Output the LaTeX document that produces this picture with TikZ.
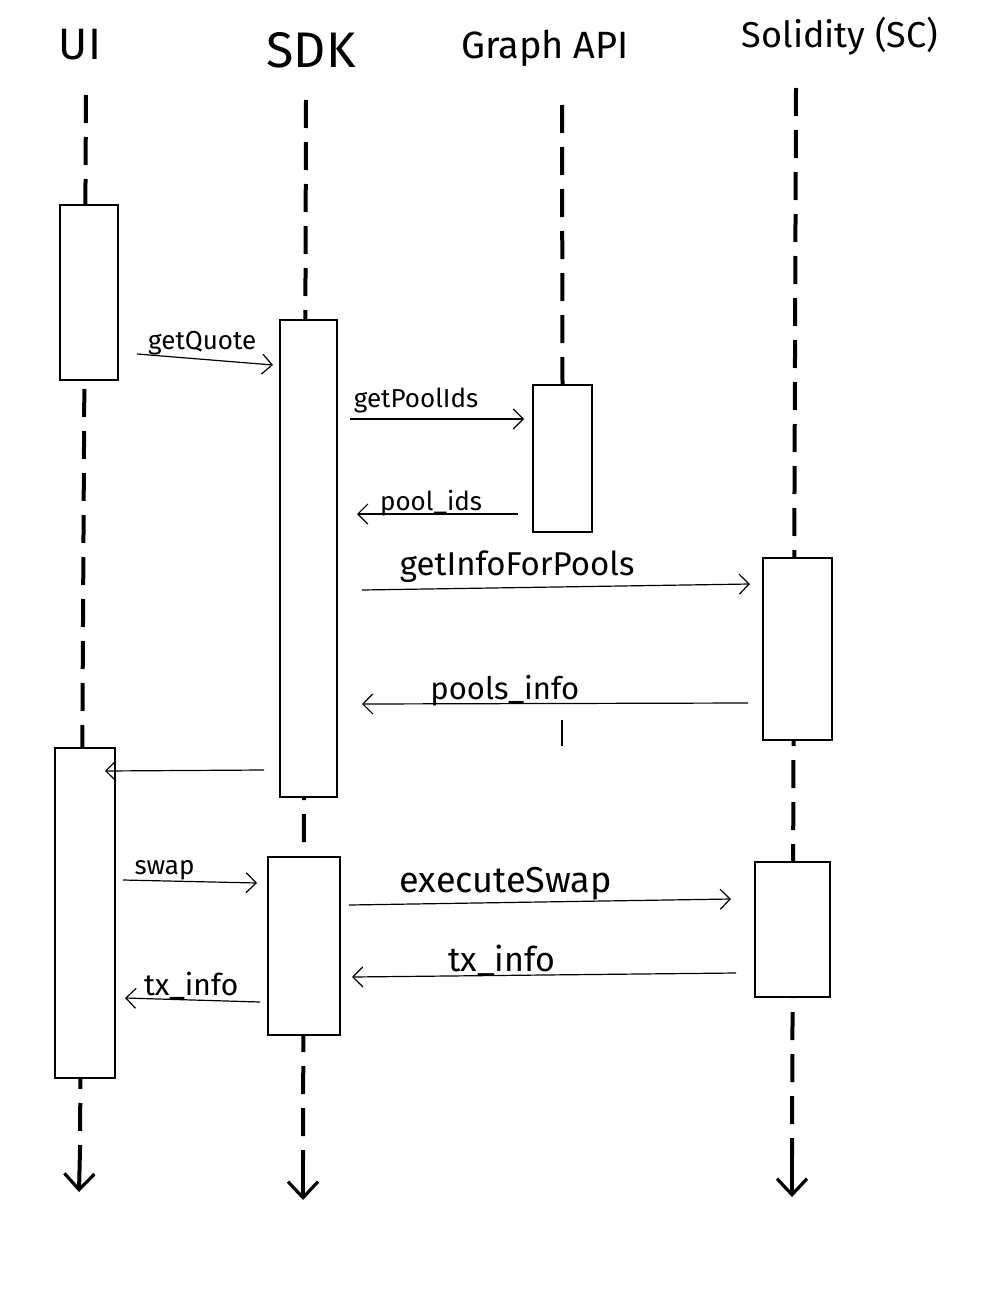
\documentclass[tikz,border=0pt]{standalone}
\usepackage{fontspec}
\setmainfont{Fira Sans}
\usetikzlibrary{arrows.meta}
\newcommand{\lblsize}[1]{\fontsize{#1}{#1}\selectfont}

\begin{document}
\begin{tikzpicture}[x=0.5pt, y=-0.5pt,
    lifeline/.style={line width=2pt, dash pattern=on 14pt off 7pt},
    lifeend/.style={line width=2pt, -{Straight Barb[length=8pt, width=15pt, line width=1.6pt]}},
    actbox/.style={rectangle, draw, fill=white, line width=0.6pt, inner sep=0pt, outer sep=0pt},
    msg/.style={line width=0.6pt, -{Straight Barb[length=5pt, width=10pt]}},
    lbl/.style={anchor=base, inner sep=0pt, yshift=2pt}]
    \useasboundingbox (0,0) rectangle (983,1311);

    % Nodes
    \node (ui) [font=\lblsize{22}] at (80,45) {UI};
    \node (sdk) [font=\lblsize{25}] at (311,50) {SDK};
    \node (graph) [font=\lblsize{19}] at (545,48) {Graph API};
    \node (sc) [font=\lblsize{18}] at (840,36) {Solidity (SC)};

    \coordinate (uitop) at (86,95);
    \coordinate (uiarrow) at (80,1150);
    \coordinate (uiend) at (79,1192);
    \coordinate (sdktop) at (306,100);
    \coordinate (sdkarrow) at (303,1160);
    \coordinate (sdkend) at (303,1200);
    \coordinate (graphtop) at (562,105);
    \coordinate (gmarka) at (562,720);
    \coordinate (gmarkb) at (562,746);
    \coordinate (sctop) at (796,88);
    \coordinate (scarrow) at (792,1157);
    \coordinate (scend) at (792,1197);

    % Lifelines
    \draw[lifeline] (uitop) -- (uiarrow);
    \draw[lifeend] (uiarrow) -- (uiend);
    \draw[lifeline] (sdktop) -- (sdkarrow);
    \draw[lifeend] (sdkarrow) -- (sdkend);
    \draw[lifeline] (sctop) -- (scarrow);
    \draw[lifeend] (scarrow) -- (scend);

    % Activation boxes
    \node (ui1) [actbox, minimum width=29pt, minimum height=87.5pt] at (89,292.5) {};
    \node (sdk1) [actbox, minimum width=28.5pt, minimum height=238.5pt] at (308.5,558.5) {};
    \node (gapi1) [actbox, minimum width=29.5pt, minimum height=73.5pt] at (562.5,458.5) {};
    \node (sc1) [actbox, minimum width=34.5pt, minimum height=91pt] at (797.5,649) {};
    \node (ui2) [actbox, minimum width=30pt, minimum height=165pt] at (85,913) {};
    \node (sdk2) [actbox, minimum width=36pt, minimum height=89pt] at (304,946) {};
    \node (sc2) [actbox, minimum width=37.5pt, minimum height=67.5pt] at (792.5,929.5) {};

    \draw[lifeline] (graphtop) -- (gapi1.north);
    \draw[line width=0.6pt] (gmarka) -- (gmarkb);

    % Arrows
    \coordinate (quotea) at (137,354);
    \coordinate (quoteb) at (273,365);
    \coordinate (poolida) at (350,419);
    \coordinate (poolidb) at (524,419);
    \coordinate (idsa) at (518,514);
    \coordinate (idsb) at (357,514);
    \coordinate (infoa) at (362,590);
    \coordinate (infob) at (750,584);
    \coordinate (poolsa) at (748,703);
    \coordinate (poolsb) at (362,704);
    \coordinate (backa) at (264,770);
    \coordinate (backb) at (105,771);
    \coordinate (swapa) at (123,880);
    \coordinate (swapb) at (257,883);
    \coordinate (execa) at (349,905);
    \coordinate (execb) at (731,899);
    \coordinate (txa) at (736,973);
    \coordinate (txb) at (352,977);
    \coordinate (txuia) at (260,1002);
    \coordinate (txuib) at (125,998);

    \draw[msg] (quotea) -- (quoteb) node[lbl, pos=0.48, yshift=3pt, font=\lblsize{13}] (lquote) {getQuote};
    \draw[msg] (poolida) -- (poolidb) node[lbl, pos=0.38, yshift=4pt, font=\lblsize{13}] (lpoolid) {getPoolIds};
    \draw[msg] (idsa) -- (idsb) node[lbl, pos=0.54, font=\lblsize{13}] (lids) {pool\_ids};
    \draw[msg] (infoa) -- (infob) node[lbl, pos=0.40, yshift=4pt, font=\lblsize{16.5}] (linfo) {getInfoForPools};
    \draw[msg] (poolsa) -- (poolsb) node[lbl, pos=0.63, font=\lblsize{15.5}] (lpools) {pools\_info};
    \draw[msg] (backa) -- (backb);
    \draw[msg] (swapa) -- (swapb) node[lbl, pos=0.31, yshift=1pt, font=\lblsize{13}] (lswap) {swap};
    \draw[msg] (execa) -- (execb) node[lbl, pos=0.41, yshift=3pt, font=\lblsize{18}] (lexec) {executeSwap};
    \draw[msg] (txa) -- (txb) node[lbl, pos=0.61, font=\lblsize{17}] (ltx) {tx\_info};
    \draw[msg] (txuia) -- (txuib) node[lbl, pos=0.51, font=\lblsize{15}] (ltxui) {tx\_info};
\end{tikzpicture}
\end{document}
